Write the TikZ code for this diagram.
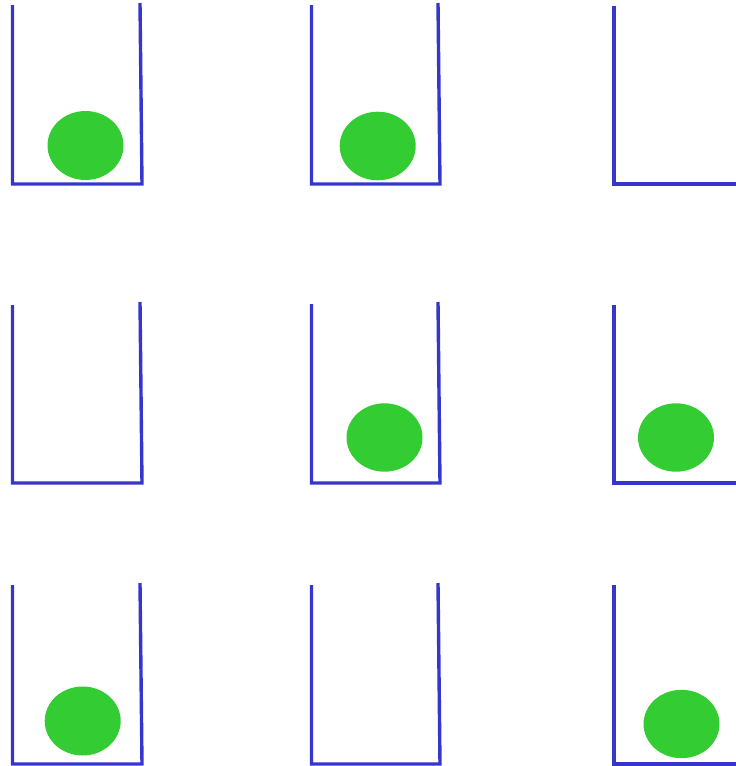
\documentclass[tikz,border=0pt]{standalone}
\definecolor{cupblue}{RGB}{54,54,204}
\definecolor{ballgreen}{RGB}{51,204,51}
\tikzset{
  cupline/.style={draw=cupblue, line width=3.4pt, line cap=butt, line join=miter},
  ball/.style={fill=ballgreen, draw=none}
}
\begin{document}
\begin{tikzpicture}[x=1pt,y=-1pt]
\useasboundingbox (0,0) rectangle (736,766);
% row 1
\draw[cupline] (12.5,5) -- (12.5,184) -- (142,184) -- (140,3);
\draw[cupline] (311.5,5) -- (311.5,184) -- (440,184) -- (438,3);
\draw[cupline] (614,6) -- (614,184) -- (740,184);
\fill[ball] (85.5,145.5) ellipse [x radius=38, y radius=34.5];
\fill[ball] (377.7,146) ellipse [x radius=38, y radius=34.3];
% row 2
\draw[cupline] (12.5,305) -- (12.5,483) -- (142,483) -- (140,302);
\draw[cupline] (311.5,304) -- (311.5,483) -- (440,483) -- (438,302);
\draw[cupline] (614,305) -- (614,483) -- (740,483);
\fill[ball] (384.5,437.5) ellipse [x radius=38, y radius=34.2];
\fill[ball] (676,437.5) ellipse [x radius=38, y radius=34.2];
% row 3
\draw[cupline] (12.5,585) -- (12.5,764) -- (142,764) -- (140,583);
\draw[cupline] (311.5,585) -- (311.5,764) -- (440,764) -- (438,583);
\draw[cupline] (614,585) -- (614,764) -- (740,764);
\fill[ball] (82.7,721) ellipse [x radius=38, y radius=34.5];
\fill[ball] (681.5,724) ellipse [x radius=38, y radius=34.2];
\end{tikzpicture}
\end{document}
